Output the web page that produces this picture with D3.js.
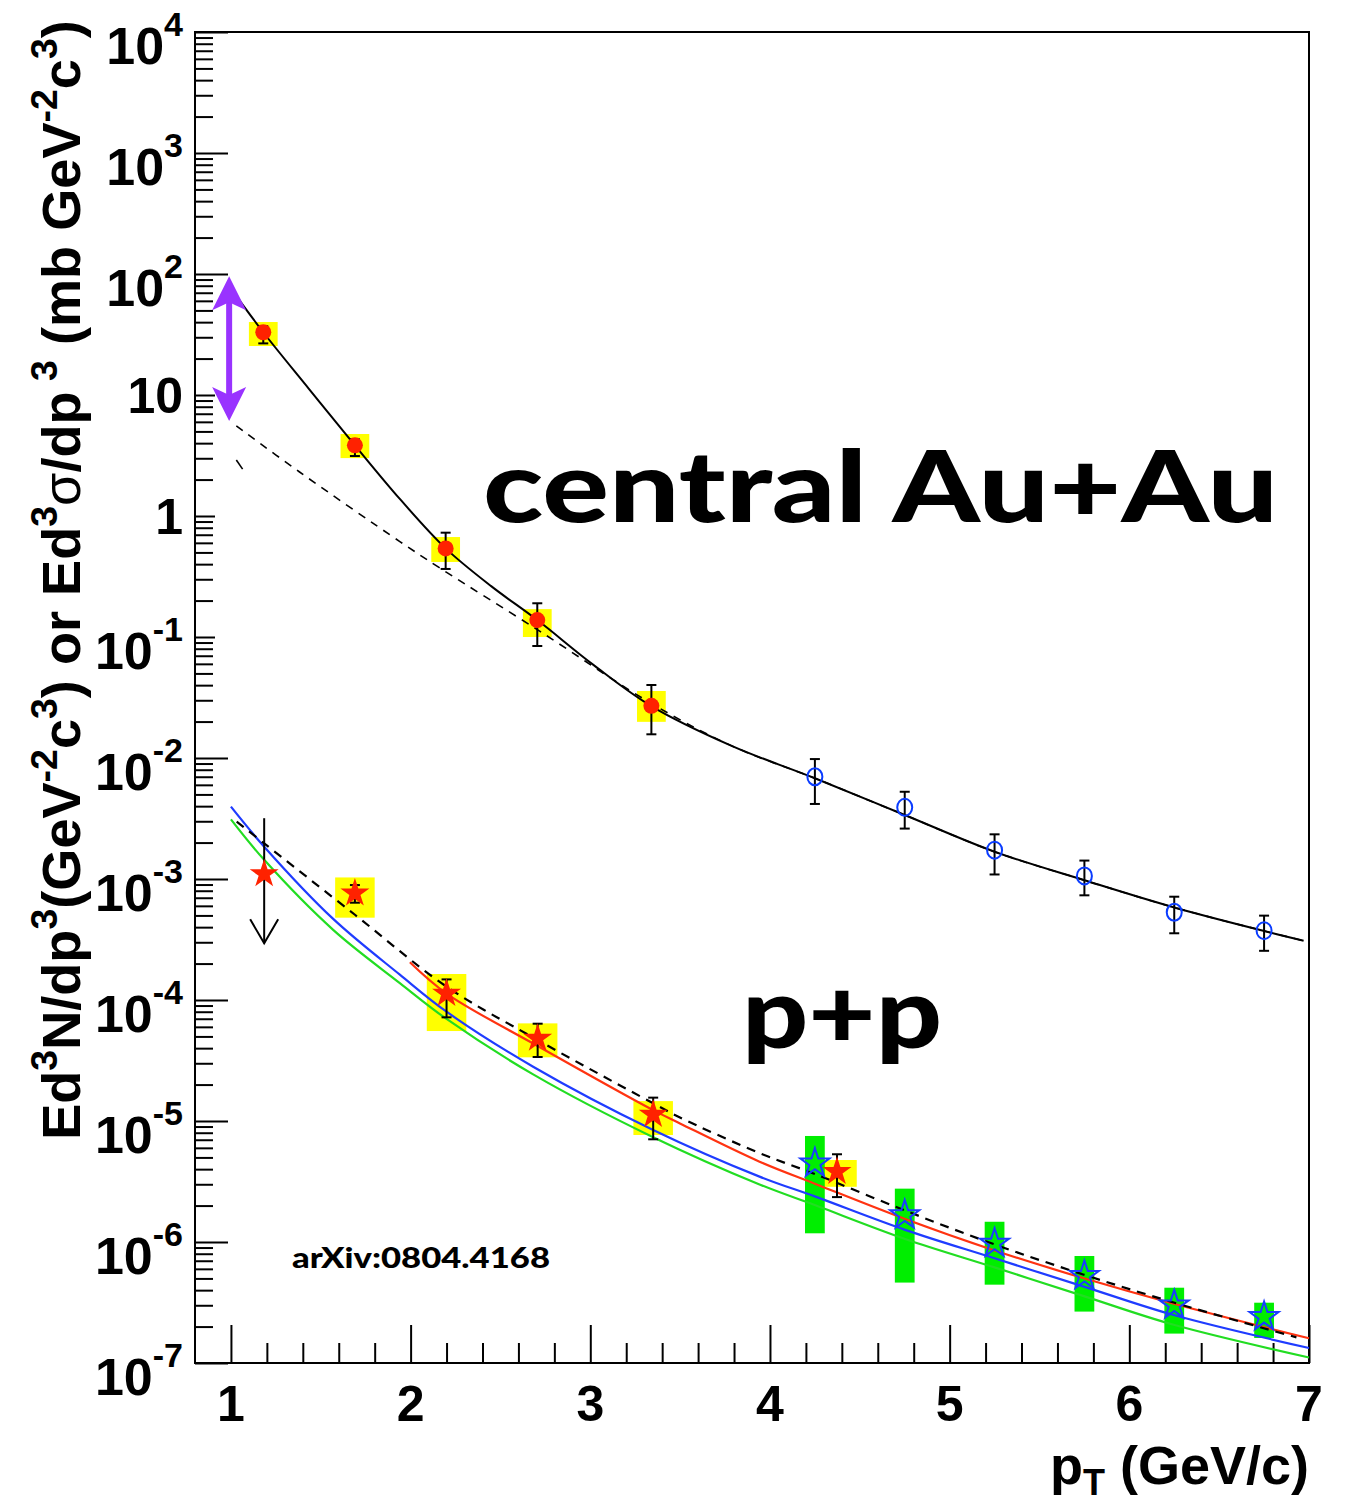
<!DOCTYPE html>
<html><head><meta charset="utf-8">
<script src="https://cdn.jsdelivr.net/npm/d3@7"></script>
<style>body{margin:0;background:#fff}svg{display:block}</style>
</head><body><svg id="c" width="1345" height="1504"></svg>
<script>
// ---------------- data ----------------
// central Au+Au, low pT (red filled circles, yellow sys boxes)
const auPt    = [1.18, 1.69, 2.195, 2.705, 3.34];
const auVal   = [33, 3.84, 0.54, 0.138, 0.027];
const auErrLo = [26.7, 3.13, 0.365, 0.0843, 0.0157];
const auErrHi = [37, 4.3, 0.728, 0.190, 0.0401];
const auSysLo = [25.4, 3.01, 0.417, 0.100, 0.0199];
const auSysHi = [40.1, 4.76, 0.670, 0.170, 0.0358];
const auSysHalfW = 0.08;

// central Au+Au, high pT (blue open circles)
const auHiPt    = [4.25, 4.75, 5.25, 5.75, 6.25, 6.75];
const auHiVal   = [7.0e-3, 3.91e-3, 1.73e-3, 1.06e-3, 5.31e-4, 3.74e-4];
const auHiErrLo = [4.17e-3, 2.61e-3, 1.09e-3, 7.33e-4, 3.56e-4, 2.55e-4];
const auHiErrHi = [9.8e-3, 5.26e-3, 2.34e-3, 1.42e-3, 7.14e-4, 4.98e-4];

// Au+Au fit (solid) and dashed curves
const auFitPt  = [1.0, 1.18, 1.435, 1.69, 1.9425, 2.195, 2.45, 2.705, 3.021, 3.337, 3.79, 4.25, 4.75, 5.25, 5.75, 6.25, 6.75, 6.97];
const auFitVal = [75.7, 33, 11.2, 3.84, 1.37, 0.54, 0.262, 0.138, 0.0583, 0.027, 0.01254, 6.8e-3, 3.38e-3, 1.68e-3, 9.77e-4, 5.82e-4, 3.72e-4, 3.09e-4];
const auDashPt  = [1.03, 1.38, 1.94, 2.16, 2.72, 3.33, 3.79, 4.25, 4.75, 5.25, 5.75, 6.25, 6.75, 6.97];
const auDashVal = [5.55, 2.32, 0.615, 0.374, 0.1114, 0.0288, 0.01254, 6.8e-3, 3.38e-3, 1.68e-3, 9.77e-4, 5.82e-4, 3.72e-4, 3.09e-4];
const auDashFragPt  = [1.03, 1.065];
const auDashFragVal = [2.9, 2.44];

// purple double arrow (range)
const arrowPt = 0.99;
const arrowTop = 96;
const arrowBottom = 6.1;

// p+p (red filled stars, yellow sys boxes)
const ppPt    = [1.69, 2.2, 2.707, 3.35, 4.373];
const ppVal   = [7.62e-4, 1.13e-4, 4.82e-5, 1.13e-5, 3.81e-6];
const ppErrLo = [6.37e-4, 7.19e-5, 3.38e-5, 7.06e-6, 2.35e-6];
const ppErrHi = [8.91e-4, 1.48e-4, 6.37e-5, 1.56e-5, 5.31e-6];
const ppSysLo = [4.79e-4, 5.54e-5, 3.36e-5, 7.66e-6, 2.86e-6];
const ppSysHi = [1.03e-3, 1.64e-4, 6.41e-5, 1.46e-5, 4.76e-6];
const ppSysHalfW = 0.11;

// p+p upper limit
const ulPt = 1.185, ulVal = 1.1e-3, ulFrom = 3.18e-3, ulTo = 2.94e-4;

// p+p high pT (blue open stars, green sys boxes)
const ppHiPt    = [4.25, 4.75, 5.25, 5.75, 6.25, 6.75];
const ppHiVal   = [4.47e-6, 1.67e-6, 9.75e-7, 5.27e-7, 3.01e-7, 2.41e-7];
const ppHiSysLo = [1.18e-6, 4.62e-7, 4.44e-7, 2.66e-7, 1.75e-7, 1.61e-7];
const ppHiSysHi = [7.52e-6, 2.76e-6, 1.47e-6, 7.66e-7, 4.19e-7, 3.15e-7];
const ppHiSysHalfW = 0.055;

// p+p curves
const ppBluePt  = [1.0, 1.185, 1.569, 1.94, 2.2, 2.682, 3.35, 3.942, 4.253, 4.752, 5.25, 5.747, 6.247, 7.0];
const ppBlueVal = [3.96e-3, 1.85e-3, 4.68e-4, 1.62e-4, 8.0e-5, 2.81e-5, 8.43e-6, 3.47e-6, 2.37e-6, 1.26e-6, 7.33e-7, 4.28e-7, 2.49e-7, 1.33e-7];
const ppGreenPt  = [1.0, 1.185, 1.569, 1.94, 2.2, 2.682, 3.35, 3.942, 4.253, 4.752, 5.25, 5.747, 6.247, 7.0];
const ppGreenVal = [3.11e-3, 1.44e-3, 3.80e-4, 1.38e-4, 6.97e-5, 2.43e-5, 7.35e-6, 2.99e-6, 2.01e-6, 1.06e-6, 6.17e-7, 3.57e-7, 2.07e-7, 1.11e-7];
const ppRedPt  = [1.996, 2.2, 2.707, 3.35, 3.499, 3.942, 4.253, 4.752, 5.25, 5.747, 6.247, 7.0];
const ppRedVal = [2.05e-4, 1.13e-4, 4.17e-5, 1.23e-5, 9.55e-6, 4.61e-6, 3.02e-6, 1.55e-6, 8.51e-7, 5.01e-7, 3.09e-7, 1.60e-7];
const ppDashPt  = [1.032, 1.185, 1.692, 2.2, 2.707, 3.35, 3.499, 3.942, 4.253, 4.752, 5.25, 5.747, 6.247, 6.93];
const ppDashVal = [2.98e-3, 1.97e-3, 5.04e-4, 1.29e-4, 4.67e-5, 1.40e-5, 1.07e-5, 5.43e-6, 3.63e-6, 1.82e-6, 9.55e-7, 5.37e-7, 3.16e-7, 1.63e-7];

// axes
const xMajorTicks = [1, 2, 3, 4, 5, 6, 7];
const xLabels = ["1", "2", "3", "4", "5", "6", "7"];
const yDecades = [-7, -6, -5, -4, -3, -2, -1, 0, 1, 2, 3, 4];
const yPlainLabels = {0: "1", 1: "10"};

// ---------------- drawing ----------------
const svg = d3.select("#c");
svg.append("rect").attr("width", 1345).attr("height", 1504).attr("fill", "#fff");
const L = 195, R = 1309, T = 32, B = 1363;
const x = d3.scaleLinear().domain([0.8, 7]).range([L, R]);
const y = d3.scaleLog().domain([1e-7, 1e4]).range([B, T]);

const FONT = "'Liberation Sans', Arial, Helvetica, sans-serif";
const zip = (a, b) => a.map((v, i) => [v, b[i]]);

// --- axes ticks
const yMinor = [];
yDecades.slice(0, -1).forEach(e => { for (let k = 2; k <= 9; k++) yMinor.push(k * Math.pow(10, e)); });
const yMajorLong = yDecades.filter(e => e < -1 || e > 1).map(e => Math.pow(10, e));
const yMajorShort = yDecades.filter(e => e >= -1 && e <= 1).map(e => Math.pow(10, e));

function tickAxis(axis, tx, ty) {
  const g = svg.append("g").attr("transform", `translate(${tx},${ty})`).call(axis);
  g.select(".domain").remove();
  g.selectAll("line").attr("stroke", "#000").attr("stroke-width", 2);
  g.selectAll("text").remove();
  return g;
}
tickAxis(d3.axisRight(y).tickValues(yMinor).tickSize(18).tickFormat(""), L, 0);
tickAxis(d3.axisRight(y).tickValues(yMajorShort).tickSize(20).tickFormat(""), L, 0);
tickAxis(d3.axisRight(y).tickValues(yMajorLong).tickSize(33).tickFormat(""), L, 0);
const xMinor = d3.range(12, 70, 2).map(v => v / 10).filter(v => Math.abs(v - Math.round(v)) > 1e-6);
tickAxis(d3.axisTop(x).tickValues(xMinor).tickSize(20).tickFormat(""), 0, B);
tickAxis(d3.axisTop(x).tickValues(xMajorTicks).tickSize(38).tickFormat(""), 0, B);

// frame
svg.append("rect").attr("x", L).attr("y", T).attr("width", R - L).attr("height", B - T)
  .attr("fill", "none").attr("stroke", "#000").attr("stroke-width", 2);

// y tick labels
yDecades.forEach(e => {
  const ty = y(Math.pow(10, e));
  if (yPlainLabels[e] !== undefined) {
    svg.append("text").attr("x", 183).attr("y", ty + 18).attr("text-anchor", "end")
      .attr("font-family", FONT).attr("font-weight", "bold").attr("font-size", 50)
      .text(yPlainLabels[e]);
  } else {
    const t = svg.append("text").attr("x", 183).attr("y", ty + 32).attr("text-anchor", "end")
      .attr("font-family", FONT).attr("font-weight", "bold").attr("font-size", 52);
    t.append("tspan").text("10");
    t.append("tspan").attr("dy", -28).attr("font-size", 34).text(String(e));
  }
});
// x tick labels
xMajorTicks.forEach((v, i) => {
  svg.append("text").attr("x", x(v)).attr("y", 1421).attr("text-anchor", "middle")
    .attr("font-family", FONT).attr("font-weight", "bold").attr("font-size", 50).text(xLabels[i]);
});

// x title
{
  const t = svg.append("text").attr("x", R).attr("y", 1484).attr("text-anchor", "end")
    .attr("font-family", FONT).attr("font-weight", "bold").attr("font-size", 54);
  t.append("tspan").text("p");
  t.append("tspan").attr("dy", 11).attr("font-size", 36).text("T");
  t.append("tspan").attr("dy", -11).text(" (GeV/c)");
}
// y title
{
  const g = svg.append("g").attr("transform", "translate(80,580) rotate(-90)");
  const t = g.append("text").attr("x", 0).attr("y", 0).attr("text-anchor", "middle")
    .attr("font-family", FONT).attr("font-weight", "bold").attr("font-size", 52);
  const parts = [["Ed",0],["3",1],["N/dp",0],["3",1],["(GeV",0],["-2",1],["c",0],["3",1],[") or Ed",0],["3",1],["σ",2],["/dp",0],[" 3",1],[" (mb GeV",0],["-2",1],["c",0],["3",1],[")",0]];
  let sup = false;
  parts.forEach(([s, k]) => {
    const ts = t.append("tspan").text(s);
    if (k === 1) { ts.attr("font-size", 36); if (!sup) ts.attr("dy", -22); sup = true; }
    else { if (sup) ts.attr("dy", 22); sup = false; if (k === 2) ts.attr("font-weight", "normal"); }
  });
  const w = t.node().getComputedTextLength();
  const f = 1120 / w;
  t.attr("font-size", 52 * f);
  t.selectAll("tspan").each(function () {
    const s = d3.select(this);
    if (s.attr("font-size")) s.attr("font-size", +s.attr("font-size") * f);
    if (s.attr("dy")) s.attr("dy", +s.attr("dy") * f);
  });
}

// ---------- systematic boxes ----------
const sysG = svg.append("g");
auPt.forEach((p, i) => sysG.append("rect")
  .attr("x", x(p - auSysHalfW)).attr("width", x(p + auSysHalfW) - x(p - auSysHalfW))
  .attr("y", y(auSysHi[i])).attr("height", y(auSysLo[i]) - y(auSysHi[i])).attr("fill", "#ffff00"));
ppPt.forEach((p, i) => sysG.append("rect")
  .attr("x", x(p - ppSysHalfW)).attr("width", x(p + ppSysHalfW) - x(p - ppSysHalfW))
  .attr("y", y(ppSysHi[i])).attr("height", y(ppSysLo[i]) - y(ppSysHi[i])).attr("fill", "#ffff00"));
ppHiPt.forEach((p, i) => sysG.append("rect")
  .attr("x", x(p - ppHiSysHalfW)).attr("width", x(p + ppHiSysHalfW) - x(p - ppHiSysHalfW))
  .attr("y", y(ppHiSysHi[i])).attr("height", y(ppHiSysLo[i]) - y(ppHiSysHi[i])).attr("fill", "#00ee00"));

// ---------- curves ----------
const line = d3.line().x(d => x(d[0])).y(d => y(d[1])).curve(d3.curveCatmullRom.alpha(0.5));
function curve(pts, vals, color, w, dash) {
  const p = svg.append("path").datum(zip(pts, vals)).attr("d", line)
    .attr("fill", "none").attr("stroke", color).attr("stroke-width", w);
  if (dash) p.attr("stroke-dasharray", dash);
}
curve(ppGreenPt, ppGreenVal, "#22dd22", 2.2);
curve(ppBluePt, ppBlueVal, "#1f3cff", 2.2);
curve(ppRedPt, ppRedVal, "#ff3311", 2.2);
curve(ppDashPt, ppDashVal, "#000", 2.2, "9,7");
curve(auDashPt, auDashVal, "#000", 1.6, "8,7");
curve(auDashFragPt, auDashFragVal, "#000", 1.6);
curve(auFitPt, auFitVal, "#000", 2);

// ---------- error bars ----------
function errBars(pts, lo, hi) {
  pts.forEach((p, i) => {
    const g = svg.append("g").attr("stroke", "#000").attr("stroke-width", 2);
    g.append("line").attr("x1", x(p)).attr("x2", x(p)).attr("y1", y(hi[i])).attr("y2", y(lo[i]));
    g.append("line").attr("x1", x(p) - 5).attr("x2", x(p) + 5).attr("y1", y(hi[i])).attr("y2", y(hi[i]));
    g.append("line").attr("x1", x(p) - 5).attr("x2", x(p) + 5).attr("y1", y(lo[i])).attr("y2", y(lo[i]));
  });
}
errBars(auPt, auErrLo, auErrHi);
errBars(auHiPt, auHiErrLo, auHiErrHi);
errBars(ppPt, ppErrLo, ppErrHi);

// ---------- markers ----------
const star = d3.symbol().type(d3.symbolStar).size(260);
auPt.forEach((p, i) => svg.append("circle").attr("cx", x(p)).attr("cy", y(auVal[i])).attr("r", 8).attr("fill", "#ff2200"));
auHiPt.forEach((p, i) => svg.append("ellipse").attr("cx", x(p)).attr("cy", y(auHiVal[i])).attr("rx", 7.5).attr("ry", 8.5)
  .attr("fill", "none").attr("stroke", "#0a3cff").attr("stroke-width", 2));
ppPt.forEach((p, i) => svg.append("path").attr("d", star).attr("transform", `translate(${x(p)},${y(ppVal[i])})`).attr("fill", "#ff2200"));
ppHiPt.forEach((p, i) => svg.append("path").attr("d", star).attr("transform", `translate(${x(p)},${y(ppHiVal[i])})`)
  .attr("fill", "none").attr("stroke", "#1a3cff").attr("stroke-width", 2));

// upper limit arrow
{
  const g = svg.append("g").attr("stroke", "#000").attr("stroke-width", 2).attr("fill", "none");
  const ax = x(ulPt), y0 = y(ulFrom), y1 = y(ulTo);
  g.append("line").attr("x1", ax).attr("x2", ax).attr("y1", y0).attr("y2", y1);
  g.append("path").attr("d", `M${ax - 14},${y1 - 24}L${ax},${y1}L${ax + 14},${y1 - 24}`);
  svg.append("path").attr("d", star).attr("transform", `translate(${ax},${y(ulVal)})`).attr("fill", "#ff2200");
}

// purple double arrow
{
  const ax = x(arrowPt), yt = y(arrowTop), yb = y(arrowBottom);
  const g = svg.append("g");
  g.append("line").attr("x1", ax).attr("x2", ax).attr("y1", yt + 20).attr("y2", yb - 20)
    .attr("stroke", "#9933ff").attr("stroke-width", 6);
  g.append("path").attr("d", `M${ax},${yt}L${ax + 17},${yt + 34}L${ax},${yt + 26}L${ax - 17},${yt + 34}Z`).attr("fill", "#9933ff");
  g.append("path").attr("d", `M${ax},${yb}L${ax + 17},${yb - 34}L${ax},${yb - 26}L${ax - 17},${yb - 34}Z`).attr("fill", "#9933ff");
}

// ---------- annotations ----------
function fitText(txt, x0, y0, size, width, family, weight) {
  const t = svg.append("text").attr("x", x0).attr("y", y0).attr("font-family", family)
    .attr("font-weight", weight).attr("font-size", size).text(txt);
  t.attr("textLength", width).attr("lengthAdjust", "spacingAndGlyphs");
  return t;
}
fitText("central Au+Au", 483, 522, 100, 795, "Lato, 'Open Sans', sans-serif", 900);
fitText("p+p", 742, 1048, 98, 200, "Lato, 'Open Sans', sans-serif", 900);
fitText("arXiv:0804.4168", 292, 1268, 28, 258, "Lato, 'Open Sans', sans-serif", 900);
</script>
</body></html>
